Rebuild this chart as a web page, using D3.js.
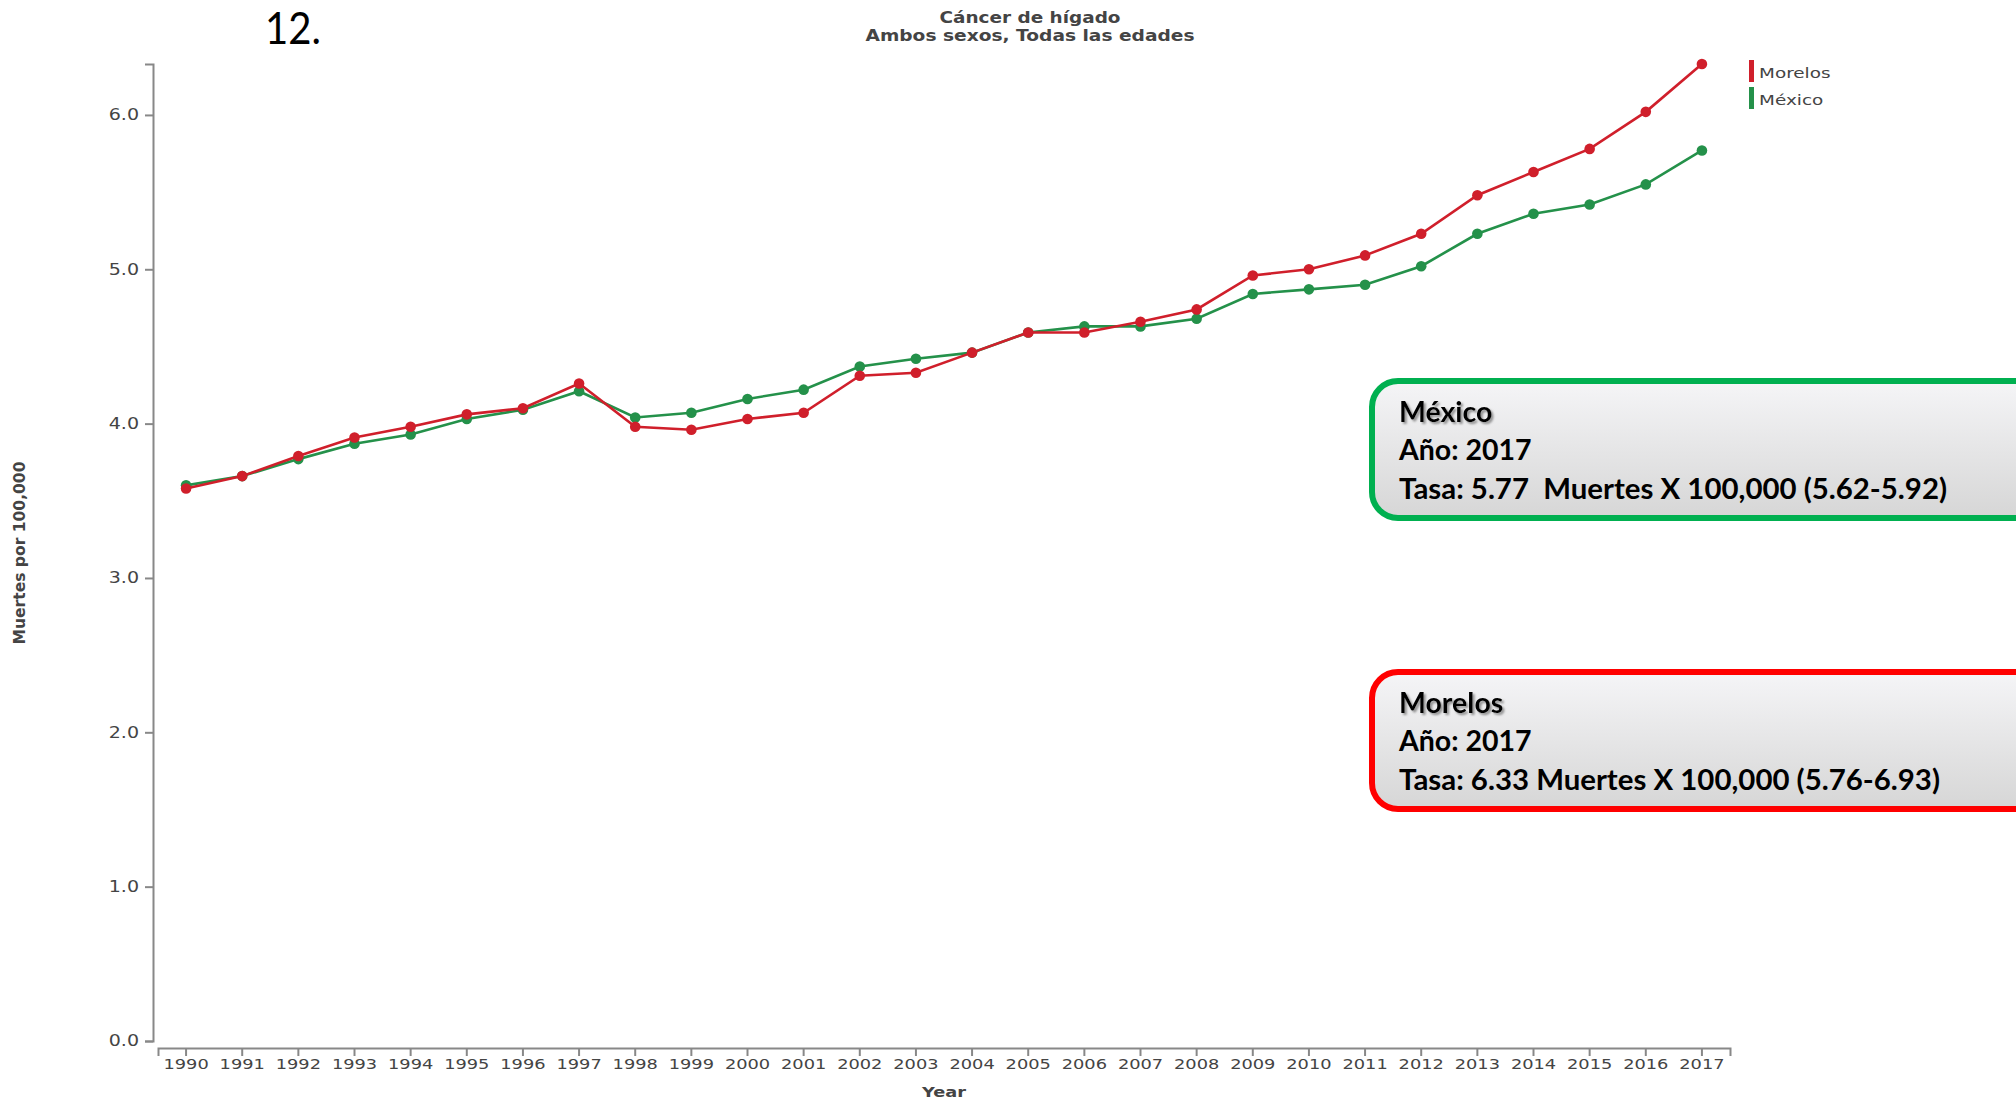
<!DOCTYPE html>
<html lang="es">
<head>
<meta charset="utf-8">
<title>Cáncer de hígado</title>
<script src="https://d3js.org/d3.v7.min.js"></script>
<style>
  body { margin: 0; background: #fff; }
  .axis path, .axis line { stroke: #888; stroke-width: 2px; }
  .axis text { font-family: "DejaVu Sans", Verdana, sans-serif; font-size: 14px; fill: #444; }
  .lbl { font-family: "DejaVu Sans", Verdana, sans-serif; font-weight: bold; fill: #444; }
  .box text { font-family: Lato, "Open Sans", sans-serif; font-weight: bold; fill: #000; font-size: 28.5px; white-space: pre; }
</style>
</head>
<body>
<svg id="chart" width="2016" height="1100"></svg>
<script>
var years = [1990, 1991, 1992, 1993, 1994, 1995, 1996, 1997, 1998, 1999,
             2000, 2001, 2002, 2003, 2004, 2005, 2006, 2007, 2008, 2009,
             2010, 2011, 2012, 2013, 2014, 2015, 2016, 2017];

var morelos = [3.58, 3.66, 3.79, 3.91, 3.98, 4.06, 4.10, 4.26, 3.98, 3.96,
               4.03, 4.07, 4.31, 4.33, 4.46, 4.59, 4.59, 4.66, 4.74, 4.96,
               5.00, 5.09, 5.23, 5.48, 5.63, 5.78, 6.02, 6.33];

var mexico = [3.60, 3.66, 3.77, 3.87, 3.93, 4.03, 4.09, 4.21, 4.04, 4.07,
              4.16, 4.22, 4.37, 4.42, 4.46, 4.59, 4.63, 4.63, 4.68, 4.84,
              4.87, 4.90, 5.02, 5.23, 5.36, 5.42, 5.55, 5.77];

var yTicks = [0, 1, 2, 3, 4, 5, 6];

var seriesNames = ["Morelos", "México"];
var seriesColors = ["#d01f2b", "#24914a"];

var boxes = [
  {name: "México", lines: ["Año: 2017", "Tasa: 5.77  Muertes X 100,000 (5.62-5.92)"], stroke: "#00b050", top: 381, len: 548},
  {name: "Morelos", lines: ["Año: 2017", "Tasa: 6.33 Muertes X 100,000 (5.76-6.93)"], stroke: "#ff0000", top: 672, len: 541}
];

var svg = d3.select("#chart");
var sx = 1.27; // the chart text looks stretched sideways

svg.append("rect").attr("width", 2016).attr("height", 1100).attr("fill", "#fff");

var defs = svg.append("defs");
var grad = defs.append("linearGradient").attr("id", "boxfill")
  .attr("x1", 0).attr("y1", 0).attr("x2", 0).attr("y2", 1);
grad.append("stop").attr("offset", "0%").attr("stop-color", "#f5f5f7");
grad.append("stop").attr("offset", "100%").attr("stop-color", "#d6d6d6");
defs.append("filter").attr("id", "shadow")
  .append("feDropShadow").attr("dx", 2).attr("dy", 2)
  .attr("stdDeviation", 1.2).attr("flood-color", "#777").attr("flood-opacity", 0.8);

var x = d3.scaleBand().domain(years).range([158, 1730]);
var y = d3.scaleLinear().domain([0, d3.max(morelos)]).range([1041, 64]);

var gx = svg.append("g").attr("class", "axis")
  .attr("transform", "translate(0,1048)")
  .call(d3.axisBottom(x).tickSize(8).tickSizeOuter(8));

var gy = svg.append("g").attr("class", "axis")
  .attr("transform", "translate(153,0)")
  .call(d3.axisLeft(y).tickValues(yTicks).tickFormat(d3.format(".1f")).tickSize(8).tickSizeOuter(8));
gy.selectAll("text").style("font-size", "15px");

svg.selectAll(".axis text").attr("transform", "scale(" + sx + ",1)");

// titles
svg.append("text").attr("class", "lbl").attr("x", 1030).attr("y", 23)
  .attr("text-anchor", "middle").style("font-size", "15px")
  .attr("textLength", 181).attr("lengthAdjust", "spacingAndGlyphs")
  .text("Cáncer de hígado");
svg.append("text").attr("class", "lbl").attr("x", 1030).attr("y", 41)
  .attr("text-anchor", "middle").style("font-size", "15px")
  .attr("textLength", 329).attr("lengthAdjust", "spacingAndGlyphs")
  .text("Ambos sexos, Todas las edades");

svg.append("text").attr("class", "lbl")
  .attr("transform", "translate(25,553) rotate(-90)")
  .attr("text-anchor", "middle").style("font-size", "15px")
  .attr("textLength", 183).attr("lengthAdjust", "spacingAndGlyphs")
  .text("Muertes por 100,000");

svg.append("text").attr("class", "lbl")
  .attr("transform", "translate(944,1097) scale(" + sx + ",1)")
  .attr("text-anchor", "middle").style("font-size", "14px")
  .text("Year");

// lines
var line = d3.line()
  .x(function (d) { return x(d.year) + x.bandwidth() / 2; })
  .y(function (d) { return y(d.value); });

var series = [
  {name: "México", color: seriesColors[1], values: mexico},
  {name: "Morelos", color: seriesColors[0], values: morelos}
];

series.forEach(function (s) {
  var pts = years.map(function (yr, i) { return {year: yr, value: s.values[i]}; });
  var g = svg.append("g");
  g.append("path").datum(pts)
    .attr("fill", "none").attr("stroke", s.color).attr("stroke-width", 2.6)
    .attr("d", line);
  g.selectAll("circle").data(pts).enter().append("circle")
    .attr("cx", function (d) { return x(d.year) + x.bandwidth() / 2; })
    .attr("cy", function (d) { return y(d.value); })
    .attr("r", 5.3)
    .attr("fill", s.color);
});

// legend
var legend = svg.append("g").attr("transform", "translate(1749,60)");
seriesNames.forEach(function (n, i) {
  legend.append("rect").attr("x", 0).attr("y", i * 27)
    .attr("width", 5).attr("height", 22).attr("fill", seriesColors[i]);
  legend.append("text")
    .attr("transform", "translate(10," + (i * 27 + 18) + ") scale(" + sx + ",1)")
    .style("font-family", "'DejaVu Sans', Verdana, sans-serif")
    .style("font-size", "14.5px").attr("fill", "#444")
    .text(n);
});

// slide number
svg.append("text").attr("x", 265).attr("y", 44)
  .style("font-family", "Lato, 'Open Sans', sans-serif").style("font-size", "44px")
  .attr("textLength", 56).attr("lengthAdjust", "spacingAndGlyphs")
  .attr("fill", "#000").text("12.");

// callout boxes
boxes.forEach(function (b) {
  var g = svg.append("g").attr("class", "box");
  g.append("rect").attr("x", 1372).attr("y", b.top)
    .attr("width", 700).attr("height", 137).attr("rx", 26)
    .attr("fill", "url(#boxfill)").attr("stroke", b.stroke).attr("stroke-width", 6);
  g.append("text").attr("x", 1399).attr("y", b.top + 41)
    .attr("filter", "url(#shadow)").text(b.name);
  g.append("text").attr("x", 1399).attr("y", b.top + 79).text(b.lines[0]);
  g.append("text").attr("x", 1399).attr("y", b.top + 118)
    .attr("textLength", b.len).attr("lengthAdjust", "spacingAndGlyphs")
    .text(b.lines[1]);
});
</script>
</body>
</html>
